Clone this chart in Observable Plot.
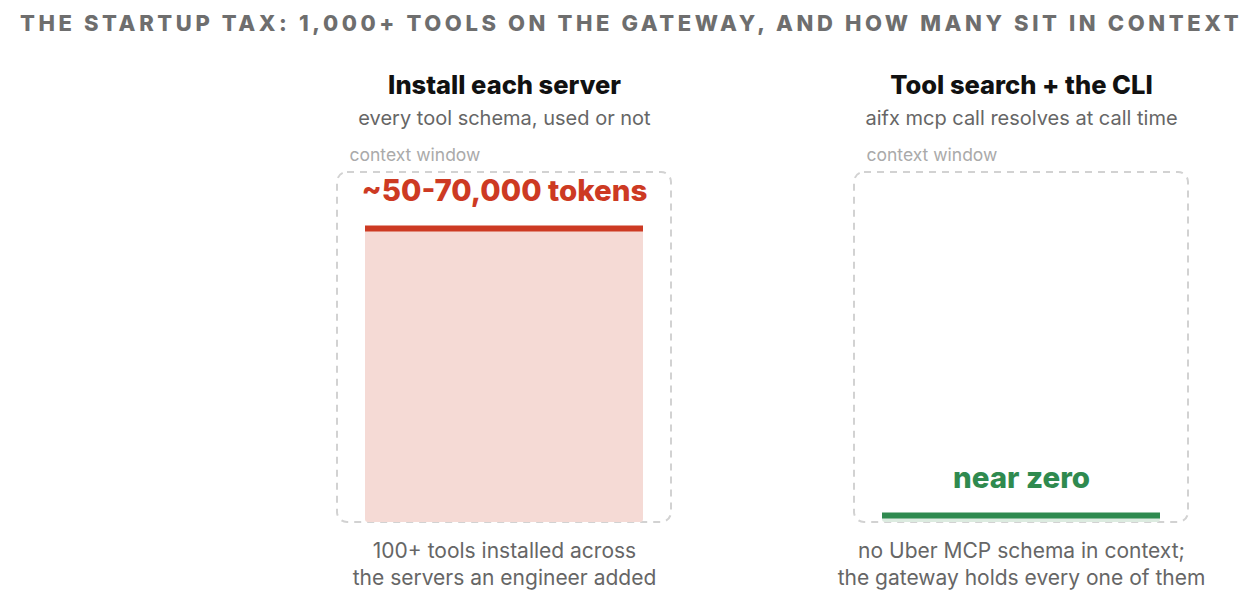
<!DOCTYPE html>
<html>
<head>
<meta charset="utf-8">
<script src="https://cdn.jsdelivr.net/npm/d3@7"></script>
<script src="https://cdn.jsdelivr.net/npm/@observablehq/plot@0.6"></script>
<style>
  html, body { margin: 0; padding: 0; background: #fff; }
  body { width: 1258px; height: 600px; overflow: hidden; font-family: Inter, "Liberation Sans", Arial, sans-serif; }
  #title { height: 46px; line-height: 46px; padding-left: 20px; font-size: 22px; font-weight: 800; letter-spacing: 3.6px; color: #6e6e6e; white-space: nowrap; }
  #chart svg { display: block; }
</style>
</head>
<body>
<div id="title"></div>
<div id="chart"></div>
<script>
// ---- data ----
const chartTitle = "THE STARTUP TAX: 1,000+ TOOLS ON THE GATEWAY, AND HOW MANY SIT IN CONTEXT";
const panels = ["Install each server", "Tool search + the CLI"];
const subtitles = ["every tool schema, used or not", "aifx mcp call resolves at call time"];
const windowLabels = ["context window", "context window"];
const contextShare = [0.84, 0.02];          // share of the context window filled
const valueLabels = ["~50-70,000 tokens", "near zero"];
const captions = [
  "100+ tools installed across\nthe servers an engineer added",
  "no Uber MCP schema in context;\nthe gateway holds every one of them"
];

// ---- styles ----
const accent = ["#cd3a23", "#2f8a4f"];
const tint = ["#f5dad5", "#dcebe0"];
const font = "Inter, \"Liberation Sans\", Arial, sans-serif";

const rows = panels.map((p, i) => ({
  panel: p, sub: subtitles[i], win: windowLabels[i], share: contextShare[i],
  value: valueLabels[i], caption: captions[i]
}));

document.getElementById("title").textContent = chartTitle;

const chart = Plot.plot({
  width: 1258,
  height: 554,
  marginTop: 126,
  marginBottom: 78,
  marginLeft: 336,
  marginRight: 70,
  style: { background: "#fff", fontFamily: font },
  x: { type: "band", domain: panels, paddingInner: 0.354, paddingOuter: 0, axis: null },
  y: { domain: [0, 1], axis: null },
  marks: [
    // context window box
    Plot.barY(rows, { x: "panel", y1: () => 0, y2: () => 1, fill: "none", stroke: "#d2d2d2", strokeWidth: 2, strokeDasharray: "7,6", rx: 10 }),
    // filled share
    Plot.barY(rows, { x: "panel", y1: () => 0, y2: "share", fill: (d, i) => tint[i], insetLeft: 28, insetRight: 28, rx: 3 }),
    Plot.tickY(rows, { x: "panel", y: "share", stroke: (d, i) => accent[i], strokeWidth: 6, insetLeft: 28, insetRight: 28 }),
    // value label
    Plot.text(rows, { x: "panel", y: "share", dy: -37, text: "value", fill: (d, i) => accent[i], fontSize: 29.5, fontWeight: 800 }),
    // panel title & subtitle
    Plot.text(rows, { x: "panel", frameAnchor: "top", lineAnchor: "middle", dy: -87, text: "panel", fill: "#111", fontSize: 25.5, fontWeight: 800 }),
    Plot.text(rows, { x: "panel", frameAnchor: "top", lineAnchor: "middle", dy: -54, text: "sub", fill: "#666", fontSize: 20 }),
    // context window label
    Plot.text(rows, { x: "panel", frameAnchor: "top", lineAnchor: "middle", dy: -17, dx: -155, textAnchor: "start", text: "win", fill: "#aaa", fontSize: 17.5 }),
    // caption
    Plot.text(rows, { x: "panel", frameAnchor: "bottom", lineAnchor: "middle", dy: 40.5, text: "caption", fill: "#666", fontSize: 21, lineHeight: 1.3 })
  ]
});
document.getElementById("chart").appendChild(chart);
</script>
</body>
</html>
